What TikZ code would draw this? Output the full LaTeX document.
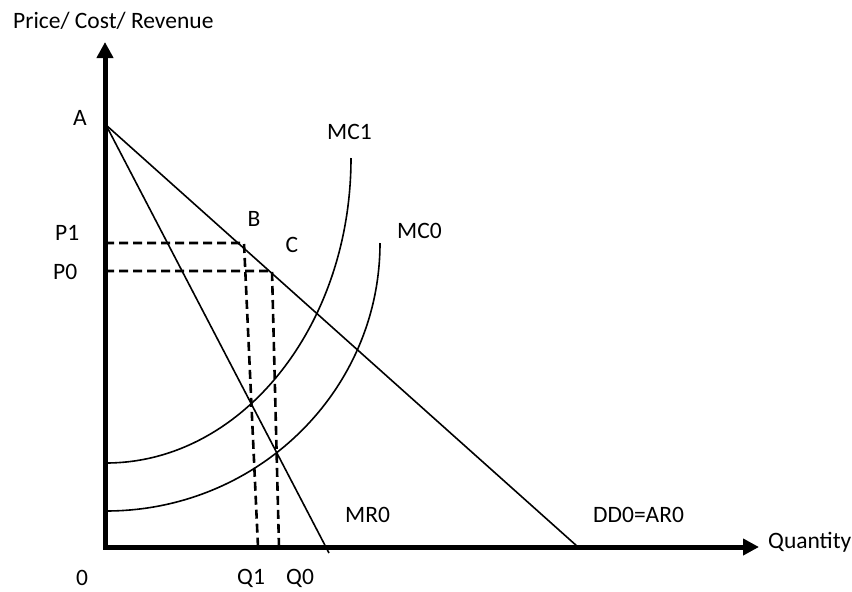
\documentclass[tikz,border=0pt]{standalone}
\usepackage{fontspec}
\setmainfont{Carlito}
\usetikzlibrary{arrows.meta}

\begin{document}
\begin{tikzpicture}[x=1pt, y=-1pt,
                axisline/.style={line width=5pt, line join=miter, {Triangle[length=16pt, width=16pt]}-{Triangle[length=16pt, width=16pt]}},
                curveline/.style={line width=1.6pt},
                guideline/.style={line width=2.6pt, dash pattern=on 9pt off 5pt},
                lbl/.style={font=\fontsize{23.5}{26}\selectfont, inner sep=0pt},
                ]
                \useasboundingbox (0,0) rectangle (852,592);
                %Points
                \coordinate (ytop) at (105,42);
                \coordinate (origin) at (105,547);
                \coordinate (xend) at (759,547);
                \coordinate (A) at (106,125);
                \coordinate (ddend) at (578,547);
                \coordinate (mrend) at (329,553);
                \coordinate (p1) at (105,243);
                \coordinate (B) at (244,243);
                \coordinate (q1) at (258,547);
                \coordinate (p0) at (105,271);
                \coordinate (C) at (272,271);
                \coordinate (q0) at (279,547);
                \coordinate (mc1start) at (106,463);
                \coordinate (mc0start) at (106,511);

                %Nodes
                \node[lbl, anchor=base west] (title)    at (13,28)   {Price/ Cost/ Revenue};
                \node[lbl, anchor=base]      (lblA)     at (80,125)  {A};
                \node[lbl, anchor=base west] (lblP1)    at (55,240)  {P1};
                \node[lbl, anchor=base west] (lblP0)    at (53,279)  {P0};
                \node[lbl, anchor=base]      (lblB)     at (254,226) {B};
                \node[lbl, anchor=base]      (lblC)     at (292,252) {C};
                \node[lbl, anchor=base west] (lblMC1)   at (327,139) {MC1};
                \node[lbl, anchor=base west] (lblMC0)   at (397,238) {MC0};
                \node[lbl, anchor=base west] (lblMR0)   at (345,522) {MR0};
                \node[lbl, anchor=base west] (lblDD0)   at (593,522) {DD0=AR0};
                \node[lbl, anchor=base]      (lblO)     at (82,585)  {0};
                \node[lbl, anchor=base west] (lblQ1)    at (237,584) {Q1};
                \node[lbl, anchor=base west] (lblQ0)    at (286,584) {Q0};
                \node[lbl, anchor=base west] (lblQty)   at (768,548) {Quantity};

                %Lines
                \draw[curveline] (A) -- (ddend);
                \draw[curveline] (A) -- (mrend);
                \draw[curveline] (mc1start) arc[start angle=270, end angle=360, x radius=245pt, y radius=305pt];
                \draw[curveline] (mc0start) arc[start angle=270, end angle=360, x radius=274pt, y radius=268pt];
                \draw[guideline] (p1) -- (B) -- (q1);
                \draw[guideline] (p0) -- (C) -- (q0);
                \draw[axisline] (ytop) -- (origin) -- (xend);
\end{tikzpicture}
\end{document}
